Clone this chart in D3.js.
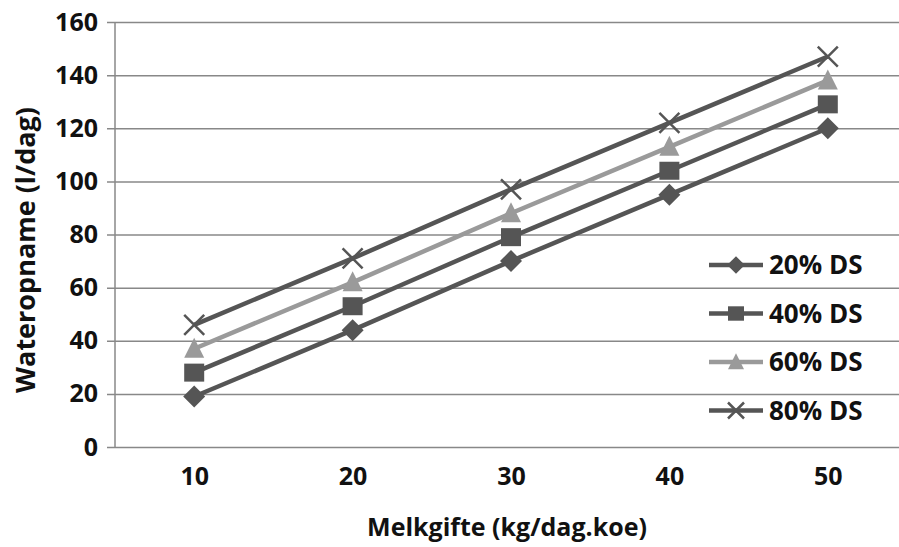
<!DOCTYPE html>
<html><head><meta charset="utf-8">
<script src="https://cdn.jsdelivr.net/npm/d3@7"></script>
<style>body{margin:0;background:#fff}svg{display:block}text{font-family:"Open Sans",sans-serif;font-weight:700;fill:#111}</style>
</head><body><svg id="c" width="899" height="547"></svg>
<script>
const categories = [10, 20, 30, 40, 50];
const seriesNames = ["20% DS", "40% DS", "60% DS", "80% DS"];
const s20 = [19, 44, 70, 95, 120];
const s40 = [28, 53, 79, 104, 129];
const s60 = [37, 62, 88, 113, 138];
const s80 = [46, 71, 97, 122, 147];
const yTicks = [0, 20, 40, 60, 80, 100, 120, 140, 160];

const seriesValues = [s20, s40, s60, s80];
const colors = ["#555", "#555", "#9a9a9a", "#555"];

const svg = d3.select("#c");
const L = 115, R = 907, T = 22, B = 447;
const x = d3.scalePoint().domain(categories).range([L, R]).padding(0.5);
const y = d3.scaleLinear().domain([0, 160]).range([B, T]);

const yAxis = d3.axisLeft(y).tickValues(yTicks).tickSize(-(R - L)).tickPadding(17);
const gy = svg.append("g").attr("transform", `translate(${L},0)`).call(yAxis);
gy.select(".domain").remove();
gy.selectAll(".tick line").attr("stroke", "#888").attr("stroke-width", 1.5).attr("x1", -8);
gy.selectAll(".tick text").attr("font-size", 25).attr("font-family", "Open Sans").attr("font-weight", 700).attr("fill", "#111");
svg.append("line").attr("x1", L).attr("x2", L).attr("y1", T).attr("y2", B).attr("stroke", "#888").attr("stroke-width", 1.5);

const gx = svg.append("g").attr("transform", `translate(0,${B})`).call(d3.axisBottom(x).tickSize(0).tickPadding(20));
gx.select(".domain").remove();
gx.selectAll(".tick text").attr("font-size", 25).attr("font-family", "Open Sans").attr("font-weight", 700).attr("fill", "#111");

const line = d3.line().x((d, i) => x(categories[i])).y(d => y(d));
function marker(g, k, cx, cy, s) {
  if (k === 3) {
    g.append("path").attr("d", `M${cx - s},${cy - s}L${cx + s},${cy + s}M${cx - s},${cy + s}L${cx + s},${cy - s}`)
      .attr("stroke", colors[k]).attr("stroke-width", 2.5).attr("fill", "none");
  } else if (k === 0) {
    const d = s * 1.1;
    g.append("path").attr("d", `M${cx},${cy - d}L${cx + d},${cy}L${cx},${cy + d}L${cx - d},${cy}Z`).attr("fill", colors[k]);
  } else if (k === 1) {
    g.append("rect").attr("x", cx - s).attr("y", cy - s * 0.9).attr("width", 2 * s).attr("height", 1.8 * s).attr("fill", colors[k]);
  } else {
    g.append("path").attr("d", `M${cx},${cy - s * 1.1}L${cx + s},${cy + s * 0.9}L${cx - s},${cy + s * 0.9}Z`).attr("fill", colors[k]);
  }
}
seriesValues.forEach((vals, k) => {
  const g = svg.append("g");
  g.append("path").attr("d", line(vals)).attr("fill", "none").attr("stroke", colors[k]).attr("stroke-width", 4.5);
  vals.forEach((v, i) => marker(g, k, x(categories[i]), y(v), 10));
});

const lg = svg.append("g");
seriesNames.forEach((n, k) => {
  const ly = 265 + k * 48.5;
  lg.append("line").attr("x1", 709).attr("x2", 763).attr("y1", ly).attr("y2", ly).attr("stroke", colors[k]).attr("stroke-width", 4.5);
  marker(lg, k, 736, ly, 8);
  lg.append("text").attr("x", 769).attr("y", ly).attr("dy", "0.36em").attr("font-size", 26).text(n);
});

svg.append("text").attr("x", 507).attr("y", 527).attr("dy", "0.36em").attr("text-anchor", "middle").attr("font-size", 25).text("Melkgifte (kg/dag.koe)");
svg.append("text").attr("transform", "translate(25,250) rotate(-90)").attr("dy", "0.36em").attr("text-anchor", "middle").attr("font-size", 27).text("Wateropname (l/dag)");
</script></body></html>
